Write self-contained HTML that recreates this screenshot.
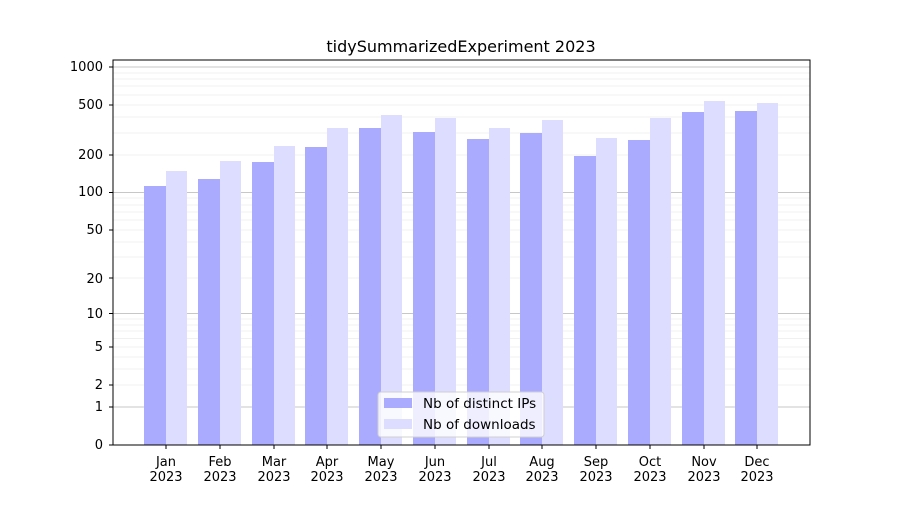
<!DOCTYPE html>
<html><head><meta charset="utf-8"><style>
body{margin:0;background:#fff;}
text{font-family:"DejaVu Sans","Liberation Sans",sans-serif;fill:#000;}
</style></head><body>
<svg width="900" height="500" viewBox="0 0 900 500" xmlns="http://www.w3.org/2000/svg">
<rect width="900" height="500" fill="#fff"/>
<text x="461" y="52" font-size="16" text-anchor="middle">tidySummarizedExperiment 2023</text>
<g stroke="#ebebeb" stroke-width="0.8">
<line x1="113" x2="810" y1="385" y2="385"/><line x1="113" x2="810" y1="369" y2="369"/><line x1="113" x2="810" y1="357" y2="357"/><line x1="113" x2="810" y1="347" y2="347"/><line x1="113" x2="810" y1="338.5" y2="338.5"/><line x1="113" x2="810" y1="331" y2="331"/><line x1="113" x2="810" y1="325" y2="325"/><line x1="113" x2="810" y1="319" y2="319"/>
<line x1="113" x2="810" y1="278" y2="278"/><line x1="113" x2="810" y1="257" y2="257"/><line x1="113" x2="810" y1="242" y2="242"/><line x1="113" x2="810" y1="230" y2="230"/><line x1="113" x2="810" y1="220" y2="220"/><line x1="113" x2="810" y1="212" y2="212"/><line x1="113" x2="810" y1="205" y2="205"/><line x1="113" x2="810" y1="198" y2="198"/>
<line x1="113" x2="810" y1="155" y2="155"/><line x1="113" x2="810" y1="133" y2="133"/><line x1="113" x2="810" y1="117" y2="117"/><line x1="113" x2="810" y1="105" y2="105"/><line x1="113" x2="810" y1="95" y2="95"/><line x1="113" x2="810" y1="86" y2="86"/><line x1="113" x2="810" y1="79" y2="79"/><line x1="113" x2="810" y1="73" y2="73"/>
</g>
<g stroke="#b4b4b4" stroke-width="0.8">
<line x1="113" x2="810" y1="407" y2="407"/><line x1="113" x2="810" y1="313.5" y2="313.5"/><line x1="113" x2="810" y1="192.5" y2="192.5"/><line x1="113" x2="810" y1="67" y2="67"/>
</g>
<g fill="#aaaaff">
<rect x="144" y="186" width="22" height="259"/>
<rect x="198" y="179" width="22" height="266"/>
<rect x="252" y="162" width="22" height="283"/>
<rect x="305" y="147" width="22" height="298"/>
<rect x="359" y="128" width="22" height="317"/>
<rect x="413" y="132" width="22" height="313"/>
<rect x="467" y="139" width="22" height="306"/>
<rect x="520" y="133" width="22" height="312"/>
<rect x="574" y="156" width="22" height="289"/>
<rect x="628" y="140" width="22" height="305"/>
<rect x="682" y="112" width="22" height="333"/>
<rect x="735" y="111" width="22" height="334"/>
</g>
<g fill="#ddddff">
<rect x="166" y="171" width="21" height="274"/>
<rect x="220" y="161" width="21" height="284"/>
<rect x="274" y="146" width="21" height="299"/>
<rect x="327" y="128" width="21" height="317"/>
<rect x="381" y="115" width="21" height="330"/>
<rect x="435" y="118" width="21" height="327"/>
<rect x="489" y="128" width="21" height="317"/>
<rect x="542" y="120" width="21" height="325"/>
<rect x="596" y="138" width="21" height="307"/>
<rect x="650" y="118" width="21" height="327"/>
<rect x="704" y="101" width="21" height="344"/>
<rect x="757" y="103" width="21" height="342"/>
</g>
<rect x="113" y="60" width="697" height="385" fill="none" stroke="#000" stroke-width="1"/>
<g font-size="13" text-anchor="end">
<text x="103" y="449">0</text><text x="103" y="411">1</text><text x="103" y="389">2</text><text x="103" y="351">5</text><text x="103" y="318">10</text><text x="103" y="283">20</text><text x="103" y="234">50</text><text x="103" y="196">100</text><text x="103" y="159">200</text><text x="103" y="109">500</text><text x="103" y="71">1000</text>
</g>
<g stroke="#000"><line x1="109" x2="113" y1="445" y2="445"/><line x1="109" x2="113" y1="407" y2="407"/><line x1="109" x2="113" y1="385" y2="385"/><line x1="109" x2="113" y1="347" y2="347"/><line x1="109" x2="113" y1="313.5" y2="313.5"/><line x1="109" x2="113" y1="278" y2="278"/><line x1="109" x2="113" y1="230" y2="230"/><line x1="109" x2="113" y1="192.5" y2="192.5"/><line x1="109" x2="113" y1="155" y2="155"/><line x1="109" x2="113" y1="105" y2="105"/><line x1="109" x2="113" y1="67" y2="67"/></g>
<g font-size="13" text-anchor="middle">
<text x="166" y="466">Jan</text><text x="166" y="481">2023</text>
<text x="220" y="466">Feb</text><text x="220" y="481">2023</text>
<text x="274" y="466">Mar</text><text x="274" y="481">2023</text>
<text x="327" y="466">Apr</text><text x="327" y="481">2023</text>
<text x="381" y="466">May</text><text x="381" y="481">2023</text>
<text x="435" y="466">Jun</text><text x="435" y="481">2023</text>
<text x="489" y="466">Jul</text><text x="489" y="481">2023</text>
<text x="542" y="466">Aug</text><text x="542" y="481">2023</text>
<text x="596" y="466">Sep</text><text x="596" y="481">2023</text>
<text x="650" y="466">Oct</text><text x="650" y="481">2023</text>
<text x="704" y="466">Nov</text><text x="704" y="481">2023</text>
<text x="757" y="466">Dec</text><text x="757" y="481">2023</text>
</g>
<g stroke="#000"><line x1="166" x2="166" y1="445" y2="449"/><line x1="220" x2="220" y1="445" y2="449"/><line x1="274" x2="274" y1="445" y2="449"/><line x1="327" x2="327" y1="445" y2="449"/><line x1="381" x2="381" y1="445" y2="449"/><line x1="435" x2="435" y1="445" y2="449"/><line x1="489" x2="489" y1="445" y2="449"/><line x1="542" x2="542" y1="445" y2="449"/><line x1="596" x2="596" y1="445" y2="449"/><line x1="650" x2="650" y1="445" y2="449"/><line x1="704" x2="704" y1="445" y2="449"/><line x1="757" x2="757" y1="445" y2="449"/></g>
<rect x="378" y="392" width="166" height="45" rx="3" fill="#fff" fill-opacity="0.8" stroke="#d0d0d0"/>
<rect x="384" y="398" width="28" height="10" fill="#aaaaff"/>
<rect x="384" y="419" width="28" height="10" fill="#ddddff"/>
<text x="423" y="408" font-size="13.5">Nb of distinct IPs</text>
<text x="423" y="429" font-size="13.5">Nb of downloads</text>
</svg>
</body></html>
